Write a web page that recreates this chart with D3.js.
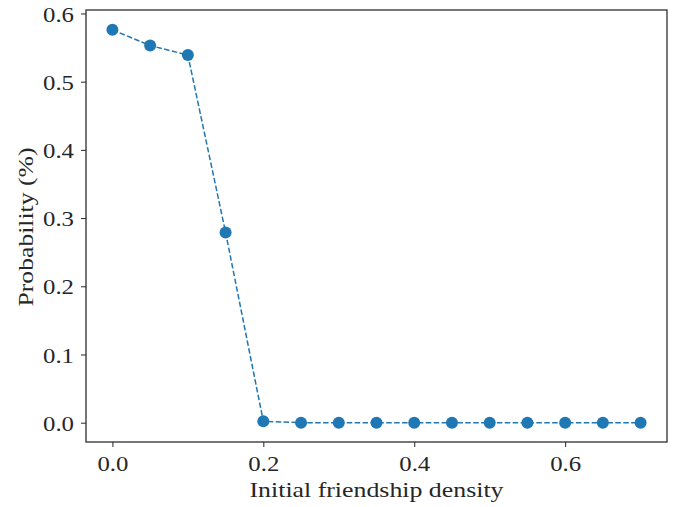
<!DOCTYPE html>
<html>
<head>
<meta charset="utf-8">
<script src="https://cdn.jsdelivr.net/npm/d3@7"></script>
<style>
  body { margin: 0; background: #fff; }
  text { font-family: "Liberation Serif", "DejaVu Serif", serif; fill: #262626; }
</style>
</head>
<body>
<script>
const densities = [0, 0.05, 0.1, 0.15, 0.2, 0.25, 0.3, 0.35, 0.4, 0.45, 0.5, 0.55, 0.6, 0.65, 0.7];
const probabilities = [0.576, 0.553, 0.539, 0.279, 0.002, 0, 0, 0, 0, 0, 0, 0, 0, 0, 0];
const xTicks = [0, 0.2, 0.4, 0.6];
const yTicks = [0, 0.1, 0.2, 0.3, 0.4, 0.5, 0.6];

const outerW = 676, outerH = 507;
const margin = { left: 86, right: 9, top: 10, bottom: 65 };
const w = outerW - margin.left - margin.right,
    h = outerH - margin.top - margin.bottom;

const fontSize = 22;

const svg = d3.select('body').append('svg')
    .attr('width', outerW)
    .attr('height', outerH);

const g = svg.append('g')
    .attr('transform', `translate(${margin.left}, ${margin.top})`);

const x = d3.scaleLinear().domain([-0.035, 0.735]).range([0, w]);
const y = d3.scaleLinear().domain([-0.0283, 0.6051]).range([h, 0]);

// axes
const xAxis = g.append('g')
    .attr('transform', `translate(0, ${h})`)
    .call(d3.axisBottom(x)
        .tickValues(xTicks)
        .tickFormat(d3.format('.1f'))
        .tickSize(5)
        .tickSizeOuter(0)
        .tickPadding(8)
    );

const yAxis = g.append('g')
    .call(d3.axisLeft(y)
        .tickValues(yTicks)
        .tickFormat(d3.format('.1f'))
        .tickSize(5)
        .tickSizeOuter(0)
        .tickPadding(7)
    );

[xAxis, yAxis].forEach(a => {
    a.select('.domain').remove();
    a.selectAll('line').attr('stroke', '#262626').attr('stroke-width', 1);
    a.selectAll('text')
        .attr('font-size', fontSize)
        .attr('fill', '#262626')
        .attr('textLength', 31)
        .attr('lengthAdjust', 'spacingAndGlyphs')
        .style('font-family', '"Liberation Serif", "DejaVu Serif", serif');
});
yAxis.selectAll('text').attr('dy', '0.35em');

// frame
g.append('rect')
    .attr('width', w)
    .attr('height', h)
    .attr('fill', 'none')
    .attr('stroke', '#262626')
    .attr('stroke-width', 1.25);

// series
const line = d3.line()
    .x((d, i) => x(densities[i]))
    .y(d => y(d));

g.append('path')
    .datum(probabilities)
    .attr('d', line)
    .attr('fill', 'none')
    .attr('stroke', '#1f77b4')
    .attr('stroke-width', 1.5)
    .attr('stroke-dasharray', '5.5,2.4');

g.selectAll('.dot')
    .data(probabilities)
    .enter()
    .append('circle')
    .attr('class', 'dot')
    .attr('cx', (d, i) => x(densities[i]))
    .attr('cy', d => y(d))
    .attr('r', 6)
    .attr('fill', '#1f77b4');

// labels
svg.append('text')
    .attr('x', margin.left + w / 2)
    .attr('y', 497)
    .attr('text-anchor', 'middle')
    .attr('font-size', fontSize)
    .attr('textLength', 254)
    .attr('lengthAdjust', 'spacingAndGlyphs')
    .text('Initial friendship density');

svg.append('text')
    .attr('transform', `translate(33, 227) rotate(-90)`)
    .attr('text-anchor', 'middle')
    .attr('font-size', fontSize)
    .attr('textLength', 159)
    .attr('lengthAdjust', 'spacingAndGlyphs')
    .text('Probability (%)');
</script>
</body>
</html>
